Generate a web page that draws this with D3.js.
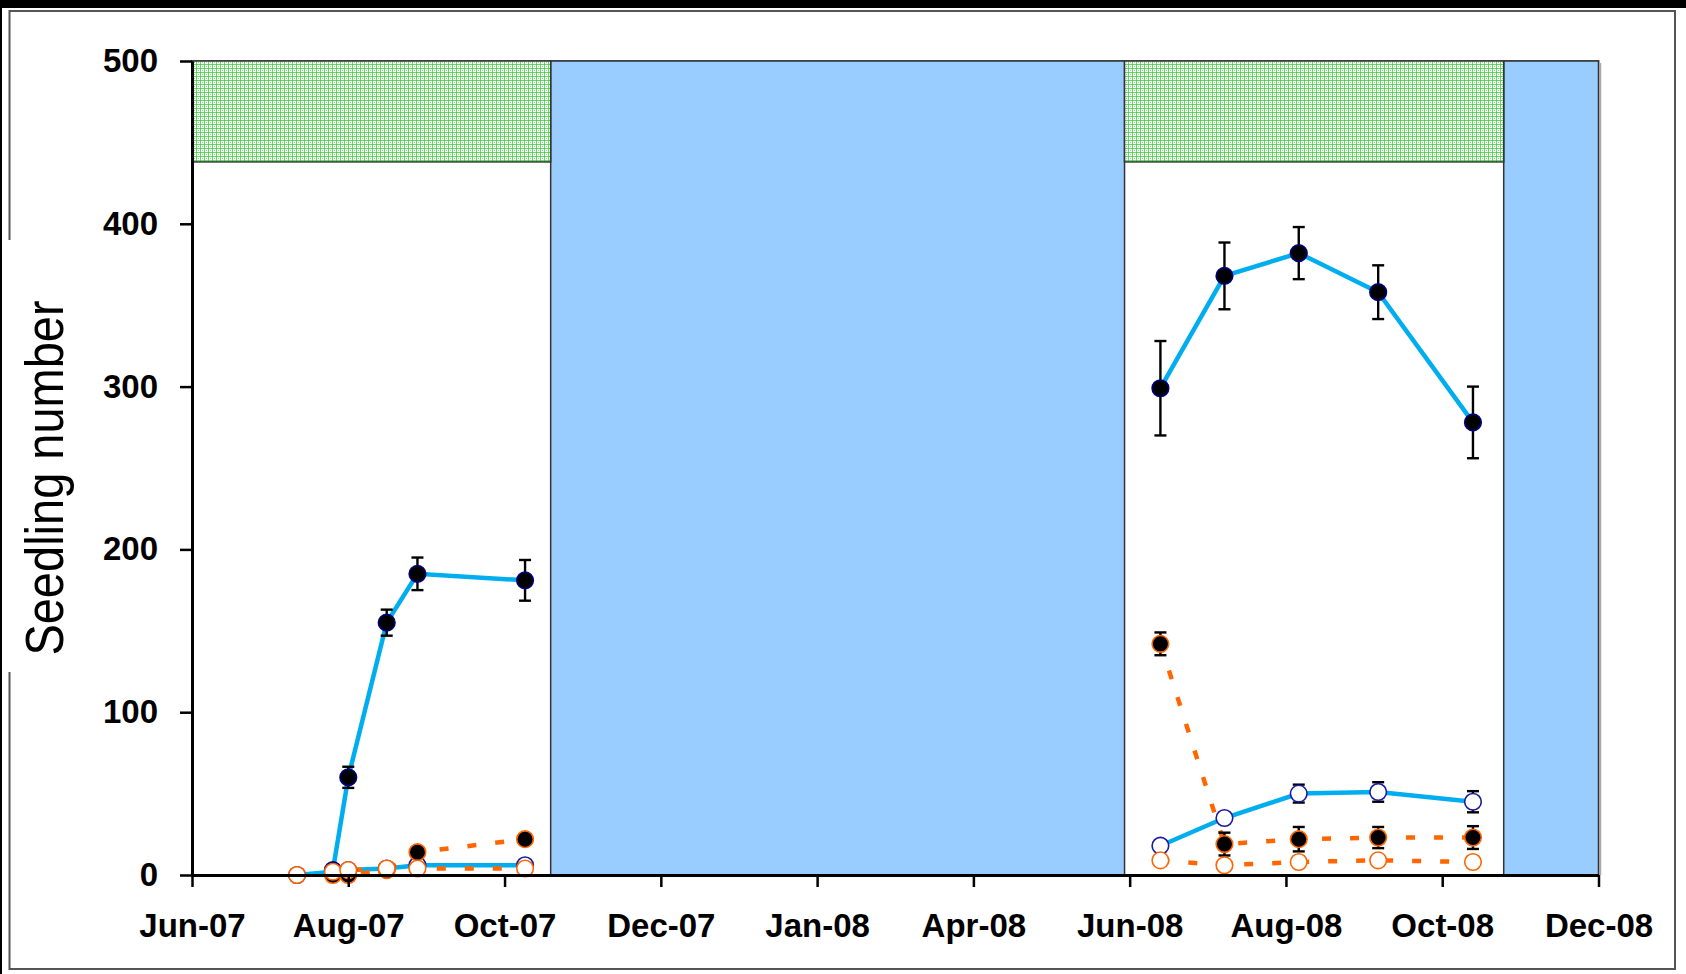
<!DOCTYPE html>
<html>
<head>
<meta charset="utf-8">
<script src="https://cdn.jsdelivr.net/npm/d3@7"></script>
<style>
  html, body { margin: 0; padding: 0; background: #fff; }
  svg { display: block; }
</style>
</head>
<body>
<div id="chart"></div>
<script>
// ---------------- DATA ----------------
const tickDates  = ["2007-06-01","2007-08-01","2007-10-01","2007-12-01","2008-01-31","2008-04-01","2008-06-01","2008-08-01","2008-10-01","2008-12-01"];
const tickLabels = ["Jun-07","Aug-07","Oct-07","Dec-07","Jan-08","Apr-08","Jun-08","Aug-08","Oct-08","Dec-08"];
const yTicks = [0, 100, 200, 300, 400, 500];
const yTitle = "Seedling number";

// growing seasons (white with green band on top) and winter periods (blue)
const seasonStarts = ["2007-06-01", "2008-05-30"];
const seasonEnds   = ["2007-10-19", "2008-10-25"];
const winterStarts = ["2007-10-19", "2008-10-25"];
const winterEnds   = ["2008-05-30", "2008-12-01"];
const bandLow = 438, bandHigh = 500;

// sampling dates
const season1Dates = ["2007-07-12","2007-07-26","2007-08-01","2007-08-16","2007-08-28","2007-10-09"];
const season2Dates = ["2008-06-13","2008-07-08","2008-08-06","2008-09-06","2008-10-13"];

// series (filled = black markers, open = white markers)
const filledBlueS1    = [null, 3, 60, 155, 185, 181];
const filledBlueErrS1 = [null, 1, 6.5, 8, 10, 12.5];
const filledBlueS2    = [299, 368, 382, 358, 278];
const filledBlueErrS2 = [29, 20.5, 16, 16.5, 22];

const openBlueS1    = [0, 2, 3, 4, 6, 6];
const openBlueErrS1 = [0, 1, 1, 1, 1, 1.5];
const openBlueS2    = [18, 35, 50, 51, 45];
const openBlueErrS2 = [2, 3, 5.5, 6, 6.5];

const filledOrangeS1    = [null, 0, 0, 3, 14, 22];
const filledOrangeErrS1 = [null, 1, 1, 1, 3, 3];
const filledOrangeS2    = [142, 19, 22, 23, 23];
const filledOrangeErrS2 = [7, 7, 7.5, 6.5, 7];

const openOrangeS1    = [0, 2, 3, 4, 4, 4];
const openOrangeErrS1 = [0, 1, 1, 1, 1, 1];
const openOrangeS2    = [9, 6, 8, 9, 8];
const openOrangeErrS2 = [1, 1, 1, 1, 1];

// ---------------- SETUP ----------------
const W = 1686, H = 974;
const parse = s => new Date(s + "T00:00:00Z");
const svg = d3.select("#chart").append("svg").attr("width", W).attr("height", H);

const defs = svg.append("defs");
const pat = defs.append("pattern").attr("id", "dots")
  .attr("patternUnits", "userSpaceOnUse").attr("width", 4).attr("height", 4);
pat.append("rect").attr("width", 4).attr("height", 4).attr("fill", "#fff");
pat.append("rect").attr("x", 0).attr("y", 0).attr("width", 4).attr("height", 1).attr("fill", "#33cc33").attr("opacity", 0.75);
pat.append("rect").attr("x", 0).attr("y", 0).attr("width", 1).attr("height", 4).attr("fill", "#33cc33").attr("opacity", 0.75);
pat.append("rect").attr("x", 2).attr("y", 2).attr("width", 1).attr("height", 1).attr("fill", "#33cc33").attr("opacity", 0.6);

svg.append("rect").attr("width", W).attr("height", H).attr("fill", "#fff");
// outer decorations
svg.append("rect").attr("x", 0).attr("y", 0).attr("width", W).attr("height", 8).attr("fill", "#000");
svg.append("rect").attr("x", 0).attr("y", 0).attr("width", 2).attr("height", H).attr("fill", "#000");
svg.append("rect").attr("x", 9.5).attr("y", 11).attr("width", 1665.5).attr("height", 958)
  .attr("fill", "none").attr("stroke", "#555").attr("stroke-width", 2);

// y title with white box
svg.append("rect").attr("x", 3).attr("y", 240).attr("width", 78).attr("height", 432).attr("fill", "#fff");
svg.append("text")
  .attr("transform", "translate(63,478) scale(1.15,1) rotate(-90)")
  .attr("text-anchor", "middle")
  .attr("font-family", "Liberation Sans, Arial, sans-serif")
  .attr("font-size", 47)
  .attr("fill", "#000")
  .text(yTitle);

// scales
const x0 = 192, x1 = 1598.5, yTop = 61, yBot = 875;
const x = d3.scaleUtc().domain([parse(tickDates[0]), parse(tickDates[tickDates.length - 1])]).range([x0, x1]);
const y = d3.scaleLinear().domain([0, 500]).range([yBot, yTop]);

const plot = svg.append("g");
plot.append("rect").attr("x", x0).attr("y", yTop).attr("width", x1 - x0).attr("height", yBot - yTop)
  .attr("fill", "#fff").attr("stroke", "#333").attr("stroke-width", 1.5);

winterStarts.forEach((s, i) => {
  plot.append("rect")
    .attr("x", x(parse(s))).attr("y", y(500))
    .attr("width", x(parse(winterEnds[i])) - x(parse(s)))
    .attr("height", y(0) - y(500))
    .attr("fill", "#99ccff").attr("stroke", "#333").attr("stroke-width", 1.5);
});
seasonStarts.forEach((s, i) => {
  plot.append("rect")
    .attr("x", x(parse(s))).attr("y", y(bandHigh))
    .attr("width", x(parse(seasonEnds[i])) - x(parse(s)))
    .attr("height", y(bandLow) - y(bandHigh))
    .attr("fill", "url(#dots)").attr("stroke", "#333").attr("stroke-width", 1.5);
});
plot.append("line").attr("x1", x1 + 2).attr("x2", x1 + 2).attr("y1", yTop + 2).attr("y2", yBot)
  .attr("stroke", "#aaa").attr("stroke-width", 1.5);

// series
const blue = "#00aeef", orange = "#ff6600";
function build(dates, vals, errs) {
  return dates.map((d, i) => ({ date: parse(d), v: vals[i], e: errs[i] }));
}
const seriesList = [
  { parts: [build(season1Dates, filledBlueS1, filledBlueErrS1), build(season2Dates, filledBlueS2, filledBlueErrS2)],
    line: blue, dash: null, fill: "#000", mstroke: "#000080" },
  { parts: [build(season1Dates, openBlueS1, openBlueErrS1), build(season2Dates, openBlueS2, openBlueErrS2)],
    line: blue, dash: null, fill: "#fff", mstroke: "#1a1aa0" },
  { parts: [build(season1Dates, filledOrangeS1, filledOrangeErrS1), build(season2Dates, filledOrangeS2, filledOrangeErrS2)],
    line: orange, dash: "9,19", fill: "#000", mstroke: orange },
  { parts: [build(season1Dates, openOrangeS1, openOrangeErrS1), build(season2Dates, openOrangeS2, openOrangeErrS2)],
    line: orange, dash: "9,19", fill: "#fff", mstroke: orange },
];

const lineGen = d3.line().defined(d => d.v != null).x(d => x(d.date)).y(d => y(d.v));
const g = svg.append("g");
seriesList.forEach(s => {
  s.parts.forEach(part => {
    g.append("path").datum(part)
      .attr("d", lineGen)
      .attr("fill", "none")
      .attr("stroke", s.line)
      .attr("stroke-width", 4.5)
      .attr("stroke-dasharray", s.dash);
  });
});
seriesList.forEach(s => {
  s.parts.forEach(part => {
    const pts = part.filter(d => d.v != null);
    const eb = g.append("g");
    pts.filter(d => d.e > 0).forEach(d => {
      const cx = x(d.date), yt = y(d.v + d.e), yb = y(Math.max(0, d.v - d.e));
      eb.append("line").attr("x1", cx).attr("x2", cx).attr("y1", yt).attr("y2", yb).attr("stroke", "#000").attr("stroke-width", 2.4);
      eb.append("line").attr("x1", cx - 6).attr("x2", cx + 6).attr("y1", yt).attr("y2", yt).attr("stroke", "#000").attr("stroke-width", 2.4);
      eb.append("line").attr("x1", cx - 6).attr("x2", cx + 6).attr("y1", yb).attr("y2", yb).attr("stroke", "#000").attr("stroke-width", 2.4);
    });
    g.selectAll(null).data(pts).enter().append("circle")
      .attr("cx", d => x(d.date)).attr("cy", d => y(d.v)).attr("r", 8.3)
      .attr("fill", s.fill).attr("stroke", s.mstroke).attr("stroke-width", 1.6);
  });
});

// axes
const font = "Liberation Sans, Arial, sans-serif";
const xAxis = d3.axisBottom(x).tickValues(tickDates.map(parse))
  .tickFormat((d, i) => tickLabels[i]).tickSizeInner(12).tickSizeOuter(0).tickPadding(27);
const gx = svg.append("g").attr("transform", `translate(0,${yBot})`).call(xAxis);
gx.select(".domain").attr("stroke", "#000").attr("stroke-width", 3);
gx.selectAll(".tick line").attr("stroke", "#000").attr("stroke-width", 2.5);
gx.selectAll(".tick text").attr("font-family", font).attr("font-weight", "bold").attr("font-size", 33).attr("fill", "#000");

const yAxis = d3.axisLeft(y).tickValues(yTicks).tickSizeInner(12).tickSizeOuter(0).tickPadding(22);
const gy = svg.append("g").attr("transform", `translate(${x0},0)`).call(yAxis);
gy.select(".domain").attr("stroke", "#000").attr("stroke-width", 3);
gy.selectAll(".tick line").attr("stroke", "#000").attr("stroke-width", 2.5);
gy.selectAll(".tick text").attr("font-family", font).attr("font-weight", "bold").attr("font-size", 33).attr("fill", "#000");
</script>
</body>
</html>
